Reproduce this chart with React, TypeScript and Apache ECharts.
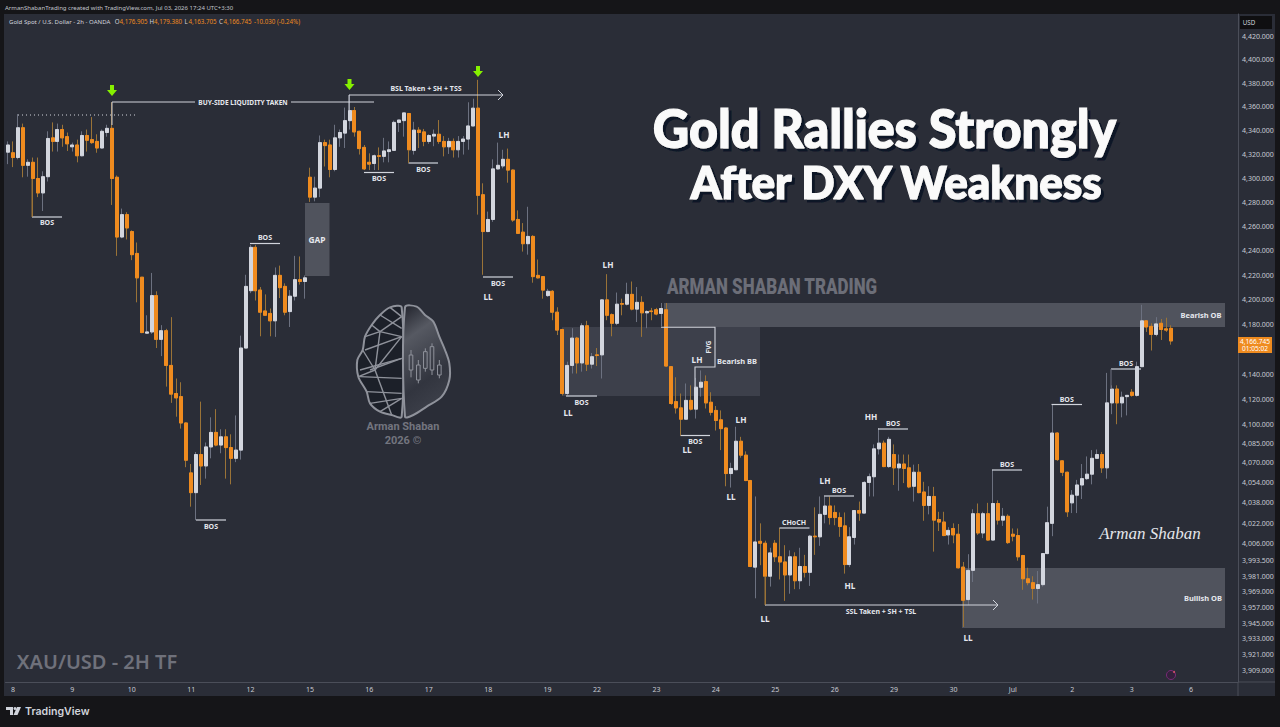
import React, { useEffect, useRef } from "react";
import * as echarts from "echarts";

// Each row is [open, high, low, close].
const juneWeek2: number[][] = [
[4322,4331,4312,4328],[4321.5,4331,4309.5,4317.5],[4317.5,4354,4316,4342.5],[4342.5,4346,4301,4311],[4311,4316,4301.5,4313.5],[4313.5,4317.5,4268,4300],[4300,4317.5,4284.5,4288],[4288,4306,4273,4301.5],[4301.5,4339.5,4297.5,4333.5],[4334,4347,4322.5,4331],
[4331,4346,4322.5,4341],[4341,4345,4326.5,4334],[4335,4338.5,4323,4329],[4326.5,4330,4322.5,4328],[4328,4332.5,4313.5,4319],[4319,4339.5,4318.5,4336],[4336,4341,4322.5,4332],[4332.5,4351.5,4329,4330],[4331,4337,4321.5,4325.5],[4325.5,4341,4325,4339.5],
[4338.5,4345,4335,4342],[4342,4364,4278,4300],[4301,4302.5,4236,4251.5],[4251.5,4275,4250.5,4270],[4270,4272,4249.5,4259],[4256,4257,4232.5,4237],[4238,4247,4198,4218],[4218.5,4218.5,4173,4173.5],[4173,4187.5,4172.5,4174],[4174,4222,4172.5,4203.5],
[4203.5,4207,4161,4168],[4168,4179.5,4154.5,4175],[4175,4176.5,4130,4147],[4147,4186,4117,4124],[4124.5,4136.5,4106,4121],[4122,4133.5,4096.5,4101],[4101,4101.5,4066,4071.5],[4061.5,4068.5,4035,4046],[4046,4078,4024.5,4076],[4076,4118,4052,4067],
[4067,4085.5,4057,4082],[4082,4105.5,4073,4093.5],[4093.5,4112,4082.5,4083.5],[4083.5,4096,4077,4090],[4090,4096,4057,4081.5],[4081.5,4092,4052.5,4073],[4073,4107,4070,4079.5],[4079.5,4171,4072,4161],[4161,4220.5,4161,4211],[4207.5,4245,4205.5,4243],
[4243,4245,4199.5,4207.5],[4208,4210.5,4170.5,4190],[4191,4204.5,4187.5,4187.5],[4189,4193,4170.5,4183],[4183,4226.5,4170,4220],[4220,4228,4201.5,4210],[4211,4213.5,4187.5,4190],[4190.5,4208,4178,4203],[4203,4236,4199.5,4216.5],[4216.5,4235.5,4212.5,4215],
[4215,4220,4201,4218],
];
const juneWeek3: number[][] = [
[4301,4309,4280.5,4284.5],[4284.5,4301.5,4281,4292],[4292,4336,4284.5,4330],[4330,4332.5,4310,4327.5],[4328,4332.5,4301,4307.5],[4307.5,4345,4306,4334],[4334,4341,4326.5,4338.5],[4338,4359.5,4325.5,4348.5],[4348.5,4370.5,4341,4357],[4357,4360,4335,4339],
[4339.5,4340,4320,4325],[4326,4328,4307,4308],[4313.5,4321,4307,4312],[4312.5,4320,4307,4319],[4319,4326,4307,4318.5],[4318.5,4334,4313.5,4323],[4322.5,4331,4313.5,4324],[4323.5,4348.5,4323,4347],[4347,4349,4339,4349],[4348.5,4355,4335,4355],
[4354.5,4355,4313.5,4324],[4323.5,4347.5,4320,4340.5],[4340.5,4343,4325.5,4338.5],[4339,4341.5,4327,4331],[4331,4337,4329,4336],[4335.5,4341,4327,4337],[4337,4349,4329,4331],[4331,4335.5,4318.5,4326.5],[4326.5,4334,4320.5,4331],[4331,4333.5,4317.5,4324],
[4324,4335.5,4317.5,4331],[4331,4335.5,4320,4333],[4333,4364,4324,4344],[4344,4367,4344,4359],[4359,4383,4270,4286],[4286.5,4296,4220.5,4256],[4256,4272.5,4255.5,4266],[4266,4316,4264,4308],[4308,4330,4307.5,4311],[4310.5,4324,4308.5,4316],
[4316,4325,4296.5,4307],[4307,4307.5,4264,4265.5],[4266,4273.5,4254,4254.5],[4255.5,4263,4239.5,4246],[4246,4276.5,4237,4252],[4252,4253,4214,4219],[4220,4233,4217.5,4218],[4219,4219.5,4201,4208],[4203.5,4209,4202.5,4207],
];
const juneWeek4: number[][] = [
[4207,4208,4183.5,4190],[4190,4194,4171.5,4175.5],[4176,4176.5,4123,4124.5],[4124.5,4150,4123,4147],[4147,4177,4140.5,4169],[4169,4170,4140.5,4149],[4149,4181,4142,4179],[4179,4183,4142.5,4148],[4148,4157,4144.5,4154],[4155.5,4161,4146.5,4155],
[4155.5,4200.5,4136.5,4200],[4200,4221,4183.5,4187.5],[4188,4189,4170.5,4181],[4181,4206,4179.5,4196.5],[4197,4201,4187.5,4196.5],[4196.5,4214,4195.5,4204.5],[4204.5,4215,4191.5,4192.5],[4192.5,4210.5,4182,4198],[4198,4203,4170,4189.5],[4189.5,4191.5,4177,4190.5],
[4191,4193.5,4183.5,4190.5],[4192,4193.5,4187.5,4188.5],[4189,4197.5,4178.5,4193],[4192,4197.5,4146,4146.5],[4146,4146.5,4115.5,4116.5],[4118,4137.5,4108.5,4113],[4113,4124.5,4091,4104],[4104,4132.5,4104,4119],[4119,4131,4111,4112],[4112,4137,4104.5,4129.5],
[4129.5,4143,4122,4133.5],[4134,4139,4112.5,4117],[4117.5,4125.5,4107,4109.5],[4111,4114.5,4095,4103],[4103.5,4111,4079.5,4096.5],[4097,4097.5,4051,4061],[4061,4069.5,4050,4065],[4064,4098,4064,4086.5],[4086.5,4090,4073.5,4075.5],[4075.5,4078.5,4055,4055.5],
[4055.5,4056,3988,3988.5],[3988,4043,3964,4007.5],[4008,4022,3989.5,4006.5],[4006.5,4008.5,3958.5,3981],[3981,4003,3973,3999],[4006.5,4009,3992,3996],[3996,4018.5,3978.5,3992],[3992,4005,3962,3982],[3982,4001,3967.5,3996],[3996,3999.5,3971,3977.5],
];
const juneWeek5: number[][] = [
[3977.5,4003,3971,3988.5],[3988.5,3997.5,3980,3984],[3984,4013,3973.5,4012],[4012,4034.5,3997.5,4011.5],[4011.5,4043,4004.5,4029],[4029,4043,4022,4035.5],[4035.5,4043,4021,4026.5],[4030.5,4036,4020.5,4026.5],[4026.5,4030.5,4011.5,4019.5],[4020,4030.5,3983,3990],
[3990,4019,3988,4011.5],[4011,4032,4005.5,4032],[4032,4039,4024,4030],[4030,4055,4030,4054],[4054,4061,4043,4058.5],[4058.5,4084,4043,4080.5],[4080.5,4097,4076,4085],[4085,4087,4066,4066.5],[4066.5,4090,4065.5,4088],[4076,4084,4052,4065.5],
[4065.5,4076,4047.5,4068.5],[4068.5,4076,4053.5,4065],[4065.5,4076,4049.5,4050.5],[4051,4068,4039,4062],[4062,4068.5,4045.5,4046],[4046.5,4054.5,4024,4036],[4036,4051,4029,4043],[4043,4050.5,4000,4024.5],[4025,4031,4016,4023],[4023,4031,4012,4012.5],
[4013,4019,4005.5,4016.5],[4018,4022,4006.5,4013],[4013.5,4021.5,3987,3987.5],[3988,3992,3942,3962.5],[3963,3998,3959,3985.5],[3985.5,4033,3976.5,4029.5],[4029.5,4037.5,4013,4014.5],[4014.5,4031,4010.5,4029.5],[4029.5,4038,4008.5,4009],[4009,4064,4008.5,4037.5],
];
const julyWeek1: number[][] = [
[4037.5,4040,4021,4024.5],[4024.5,4034,4020,4027.5],[4027.5,4029,4006,4007],[4013.5,4018,4008,4012],[4012.5,4018,3993,3996],[3997,3997.5,3970.5,3979],[3979,3987.5,3974,3976],[3976,3981,3963,3971.5],[3971.5,3985,3960,3974.5],[3974.5,3998.5,3973,3998.5],
[3998.5,4035,3998,4022.5],[4022,4116,4012,4093],[4093,4093.5,4071,4072],[4071,4071.5,4059,4062],[4062,4062.5,4027,4031],[4038,4048,4030,4044],[4044,4056,4030,4052],[4052,4068.5,4041,4057],[4057,4074.5,4056,4060.5],[4060.5,4079.5,4052.5,4073],
[4073,4080,4073,4076],[4076,4078,4061.5,4065.5],[4065.5,4141,4057,4117],[4117,4131,4108,4128],[4128,4131,4100,4117],[4117,4126,4105.5,4121.5],[4122,4123,4107,4123],[4125.5,4128,4122,4123],[4123,4150,4122,4146],[4146,4196,4146,4183],
[4183,4183.5,4174,4178],[4178.5,4181,4159,4172],[4172,4186,4170.5,4180.5],[4181,4184.5,4167.5,4176],[4176.5,4185.5,4174,4175.5],[4176.905,4179.38,4163.705,4166.745],
];
const candles = [...juneWeek2, ...juneWeek3, ...juneWeek4, ...juneWeek5, ...julyWeek1];

const dayNames = ["8","9","10","11","12","15","16","17","18","19","22","23","24","25","26","29","30","Jul","2","3","6"];
const dayStarts = [1,13,25,37,49,61,73,85,97,109,119,131,143,155,167,179,191,203,215,227,239];
const priceTicks = [4420,4400,4380,4360,4340,4320,4300,4280,4260,4240,4220,4200,4180,4140,4120,4100,4085,4070,4054,4038,4022,4006,3993.5,3981,3969,3957,3945,3933,3921,3909];
const slotCount = 249;

const PANEL = "#2a2d37", FRAME = "#151518", ORANGE = "#ef8b1f", LIGHT = "#d3d6de", LINE = "#d1d4dc";
const FONT = '"Noto Sans"';

const fmt = (v: number) => v.toLocaleString("en-US", { minimumFractionDigits: 3, maximumFractionDigits: 3 });

function T(text: string, x: number, y: number, size: number, extra: any = {}) {
  const { weight = "bold", fill = "#e6e8ee", align = "center", family = FONT, style: st = {}, ...el } = extra;
  return {
    type: "text", z: 20, x, y, silent: true, ...el,
    style: {
      text, x: 0, y: 0, fill,
      font: `${weight} ${size}px ${family}`,
      textAlign: align, align, textVerticalAlign: "middle", verticalAlign: "middle", ...st,
    },
  };
}
function L(x1: number, y1: number, x2: number, y2: number, extra: any = {}) {
  const { stroke = LINE, width = 1, dash, z = 20 } = extra;
  return { type: "line", z, silent: true, shape: { x1, y1, x2, y2 }, style: { stroke, lineWidth: width, lineDash: dash } };
}
function R(x: number, y: number, w: number, h: number, fill: string, z = 1) {
  return { type: "rect", z, silent: true, shape: { x, y, width: w, height: h }, style: { fill } };
}
function bos(x1: number, x2: number, y: number, ty: number) {
  return [L(x1, y, x2, y, { width: 1.2 }), T("BOS", (x1 + x2) / 2, ty, 7)];
}
function arrowDown(cx: number, top: number) {
  return {
    type: "polygon", z: 20, silent: true,
    shape: { points: [[cx - 2, top], [cx + 2, top], [cx + 2, top + 5], [cx + 5, top + 5], [cx, top + 11], [cx - 5, top + 5], [cx - 2, top + 5]] },
    style: { fill: "#86f000" },
  };
}
function arrowHead(x: number, y: number) {
  return { type: "polyline", z: 20, silent: true, shape: { points: [[x - 5, y - 5], [x, y], [x - 5, y + 5]] }, style: { stroke: LINE, lineWidth: 1, fill: "none" } };
}
const bx = (v: number) => 350 + v / 3, by = (v: number) => 300 + v / 3;
const pts = (a: number[][]) => a.map(([x, y]) => [bx(x), by(y)]);
function brain() {
  const c = "#8f929b";
  const left = [[155,22],[120,22],[90,45],[65,75],[45,110],[38,150],[22,180],[25,230],[50,275],[60,310],[90,335],[125,345],[155,350]];
  const right = [[165,350],[190,345],[230,320],[275,290],[298,240],[298,190],[285,150],[268,110],[250,65],[225,45],[200,20],[165,22]];
  const mesh = [[[155,110],[45,150]],[[155,110],[90,95]],[[155,110],[75,210]],[[155,175],[30,210]],[[155,175],[60,210]],[[38,150],[75,210]],[[75,210],[25,230]],[[75,210],[125,345]],[[50,275],[155,280]],[[60,310],[155,295]],[[120,22],[155,50]],[[90,45],[155,85]],[[65,75],[90,95]],[[90,95],[75,210]],[[155,50],[90,95]],[[45,110],[90,95]],[[30,230],[155,235]],[[90,335],[155,295]]];
  const sticks = [[183,150,165,210,232],[205,180,195,240,250],[226,145,155,205,215],[246,130,140,210,225],[268,180,195,225,235]];
  const out: any[] = [
    { type: "polygon", z: 1, silent: true, shape: { points: pts(left), smooth: 0.3 }, style: { fill: "rgba(20,23,32,.6)", stroke: c, lineWidth: 2 } },
    { type: "polygon", z: 1, silent: true, shape: { points: pts(right), smooth: 0.3 }, style: { fill: { type: "linear", x: 0, y: 0, x2: 0.3, y2: 1, colorStops: [{ offset: 0, color: "#20222b" }, { offset: 0.3, color: "#565962" }, { offset: 0.75, color: "#32353f" }, { offset: 1, color: "#3c3f49" }] }, stroke: c, lineWidth: 2 } },
  ];
  mesh.forEach(([a, b]) => out.push(L(bx(a[0]), by(a[1]), bx(b[0]), by(b[1]), { stroke: c, width: 1.4, z: 2 })));
  sticks.forEach(([x, h, t, b, l]) => {
    out.push(L(bx(x), by(h), bx(x), by(t), { stroke: c, z: 2 }));
    out.push(L(bx(x), by(b), bx(x), by(l), { stroke: c, z: 2 }));
    out.push({ type: "rect", z: 2, silent: true, shape: { x: bx(x) - 1.8, y: by(t), width: 3.6, height: (b - t) / 3 }, style: { fill: "none", stroke: c, lineWidth: 1 } });
  });
  return out;
}

function buildGraphics() {
  const titleStyle = { stroke: "#fafafa", lineWidth: 1.2, textShadowColor: "#0c1528", textShadowOffsetX: 3, textShadowOffsetY: 3, textShadowBlur: 0.01 };
  const g: any[] = [
    // panels
    { type: "rect", z: -20, silent: true, shape: { x: 4, y: 14, width: 1271, height: 682 }, style: { fill: PANEL } },
    L(1238, 682, 1275, 682, { stroke: "#4b4e59", z: -10 }),
    L(1238, 682, 1238, 696, { stroke: "#4b4e59", z: -10 }),
    // zones
    R(664, 303, 561, 24, "#50535d"),
    R(562, 327, 198, 69, "rgba(120,123,134,.25)"),
    R(962, 568, 263, 60, "#50535d"),
    R(305, 203, 24.5, 73, "#50535d"),
    ...brain(),
    // header
    T("ArmanShabanTrading created with TradingView.com, Jul 03, 2026 17:24 UTC+3:30", 5, 7.5, 6, { align: "left", weight: "normal", fill: "#c2c5cd" }),
    T("Gold Spot / U.S. Dollar - 2h - OANDA", 9, 21.5, 6.05, { align: "left", weight: "normal", fill: "#d1d4dc" }),
    T("O", 114.7, 21.5, 6.2, { align: "left", weight: "normal", fill: "#d1d4dc" }),
    T("4,176.905", 119.5, 21.5, 6.2, { align: "left", weight: "normal", fill: ORANGE }),
    T("H", 149.5, 21.5, 6.2, { align: "left", weight: "normal", fill: "#d1d4dc" }),
    T("4,179.380", 154, 21.5, 6.2, { align: "left", weight: "normal", fill: ORANGE }),
    T("L", 184.5, 21.5, 6.2, { align: "left", weight: "normal", fill: "#d1d4dc" }),
    T("4,163.705", 188.5, 21.5, 6.2, { align: "left", weight: "normal", fill: ORANGE }),
    T("C", 219, 21.5, 6.2, { align: "left", weight: "normal", fill: "#d1d4dc" }),
    T("4,166.745", 223.5, 21.5, 6.2, { align: "left", weight: "normal", fill: ORANGE }),
    T("-10.030 (-0.24%)", 254, 21.5, 6.2, { align: "left", weight: "normal", fill: ORANGE }),
    // axis badges
    R(1240, 16, 32, 13, "#0f0f11", 20),
    T("USD", 1249, 22.5, 6.2, { weight: "normal", fill: "#d1d4dc" }),
    R(1238, 337, 34, 16, ORANGE, 20),
    T("4,166.745", 1255, 341.5, 6.6, { weight: "normal", fill: "#fff", z: 21 }),
    T("01:05:02", 1255, 348.5, 6.6, { weight: "normal", fill: "#fff", z: 21 }),
    // titles
    T("Gold Rallies Strongly", 884.5, 127, 54, { weight: 900, fill: "#fafafa", family: '"Lato"', style: titleStyle, scaleX: 0.93 }),
    T("After DXY Weakness", 896, 182, 46, { weight: 900, fill: "#fafafa", family: '"Lato"', style: titleStyle, scaleX: 0.955 }),
    T("ARMAN SHABAN TRADING", 772, 287, 22, { weight: 900, fill: "#6c6e78", family: '"Roboto"', scaleX: 0.77 }),
    T("XAU/USD - 2H TF", 97, 661, 20, { weight: 600, fill: "#6f717b" }),
    T("Arman Shaban", 403, 426, 11, { weight: "bold", fill: "#73757f", family: '"Roboto"' }),
    T("2026 ©", 403, 440, 11, { weight: "bold", fill: "#73757f", family: '"Roboto"' }),
    T("Arman Shaban", 1150, 533, 17, { weight: "italic", fill: "#e4e6ea", family: '"Liberation Serif"' }),
    // footer
    T("TradingView", 25, 711, 10.6, { align: "left", weight: 600, fill: "#d1d4dc", family: '"Inter"' }),
    { type: "polygon", z: 20, silent: true, shape: { points: [[6,707],[13,707],[13,715],[10,715],[10,710],[6,710]] }, style: { fill: "#d1d4dc" } },
    { type: "circle", z: 20, silent: true, shape: { cx: 15, cy: 708.5, r: 1.5 }, style: { fill: "#d1d4dc" } },
    { type: "polygon", z: 20, silent: true, shape: { points: [[17,707],[21,707],[17.5,715],[13.5,715]] }, style: { fill: "#d1d4dc" } },
    // event icon
    { type: "circle", z: 20, silent: true, shape: { cx: 1171, cy: 675, r: 4.5 }, style: { fill: "#33213c", stroke: "#7a2a78", lineWidth: 1 } },
    { type: "circle", z: 20, silent: true, shape: { cx: 1174, cy: 672, r: 1 }, style: { fill: "#d9506a" } },
    // annotations
    L(18, 115, 135, 115, { dash: [1, 3], width: 1 }),
    arrowDown(112, 85), arrowDown(349.5, 79), arrowDown(478, 66),
    L(112, 102, 195, 102), T("BUY-SIDE LIQUIDITY TAKEN", 243, 102, 6.6), L(291, 102, 374, 102),
    L(112, 102, 112, 125),
    L(349, 95, 503, 95), arrowHead(503, 95), L(349, 95, 349, 110),
    T("BSL Taken + SH + TSS", 426, 88.5, 7),
    ...bos(32, 62, 217, 222.5), L(32, 179, 32, 217, { stroke: "#9a7337" }),
    ...bos(250, 280, 243.5, 237),
    ...bos(196, 226, 520, 526),
    ...bos(364, 394, 172.5, 178),
    ...bos(408.5, 438, 163, 169), L(408.5, 150, 408.5, 163, { stroke: "#9a7337" }),
    ...bos(483, 513, 277, 283),
    T("LL", 488, 296, 8.2), T("LH", 504, 134, 8.2),
    ...bos(566, 597, 396, 402), T("LL", 568, 412, 8.2), T("LH", 608, 264, 8.2),
    ...bos(680.5, 710, 435.5, 441), L(680.5, 420, 680.5, 435.5, { stroke: "#9a7337" }), T("LL", 687, 449.5, 8.2),
    T("LH", 741, 419, 8.2), T("LL", 731, 496, 8.2), T("LH", 697, 359, 8.2),
    { type: "polyline", z: 20, silent: true, shape: { points: [[661, 327.3], [715, 327.3], [715, 367], [695, 367], [695, 387]] }, style: { stroke: LINE, lineWidth: 1.1, fill: "none" } },
    T("FVG", 708.5, 347, 6.8, { rotation: Math.PI / 2 }),
    T("Bearish BB", 737, 361, 7.5),
    T("GAP", 317, 239.5, 8.4),
    L(779.5, 528, 809.5, 528, { width: 1.2 }), T("CHoCH", 794, 522, 7),
    T("LH", 825, 480, 8.2), ...bos(824, 854, 496, 490), T("HL", 850, 585, 8.2),
    T("HH", 871, 416, 8.2), ...bos(878, 908, 429, 423),
    T("LL", 765, 618, 8.2), L(765, 605, 998, 605), arrowHead(998, 605), L(765, 576, 765, 605, { stroke: "#9a7337" }),
    T("SSL Taken + SH + TSL", 881, 611, 7),
    T("LL", 968, 637, 8.2),
    ...bos(992, 1022, 470, 464),
    ...bos(1051.5, 1082, 404.5, 399),
    ...bos(1111, 1141, 369, 363), L(1111, 369, 1111, 389, { stroke: "#6c7180" }),
    T("Bearish OB", 1201, 315, 7.5),
    T("Bullish OB", 1203, 598, 7.5),
  ];
  return g;
}

export default function App() {
  const ref = useRef<HTMLDivElement>(null);
  useEffect(() => {
    const chart = echarts.init(ref.current!, undefined, { renderer: "svg" });
    const categories = Array.from({ length: slotCount }, (_, i) => {
      const k = dayStarts.indexOf(i);
      return k >= 0 ? dayNames[k] : "";
    });
    const wicks = candles.map(([o, h, l, c]) => [o, c, l, h]);
    const bodies = candles.map(([o, , , c]) => [o, c, Math.min(o, c), Math.max(o, c)]);
    chart.setOption({
      animation: false,
      backgroundColor: FRAME,
      textStyle: { fontFamily: "Noto Sans" },
      grid: { left: 5.5, top: 14, width: 1232.55, height: 668, containLabel: false },
      xAxis: {
        type: "category",
        data: categories,
        boundaryGap: true,
        axisLine: { show: true, lineStyle: { color: "#4b4e59" } },
        axisTick: { show: false },
        splitLine: { show: false },
        axisLabel: { show: true, interval: 0, hideOverlap: false, color: "#c8cbd3", fontSize: 7, margin: 4 },
      },
      yAxis: {
        type: "log",
        logBase: 10,
        position: "right",
        min: 3900.2,
        max: 4439.3,
        scale: true,
        axisLine: { show: true, lineStyle: { color: "#4b4e59" } },
        axisTick: { show: false },
        splitLine: { show: false },
        minorTick: { show: false },
        axisLabel: {
          show: true,
          color: "#c8cbd3",
          fontSize: 7,
          margin: 4,
          customValues: priceTicks,
          formatter: (v: number) => fmt(v),
        },
      },
      series: [
        {
          name: "XAU/USD range",
          type: "candlestick",
          barWidth: 3.5,
          data: wicks,
          itemStyle: { color: "transparent", color0: "transparent", borderColor: "#6c7180", borderColor0: "#9a7337", borderColorDoji: "#6c7180", borderWidth: 1 },
          silent: true,
        },
        {
          name: "XAU/USD bodies",
          type: "candlestick",
          barWidth: 3.5,
          data: bodies,
          itemStyle: { color: LIGHT, color0: ORANGE, borderColor: LIGHT, borderColor0: ORANGE, borderColorDoji: LIGHT, borderWidth: 1 },
          silent: true,
        },
      ],
      graphic: { elements: buildGraphics() },
    });
    return () => chart.dispose();
  }, []);
  return <div ref={ref} style={{ position: "fixed", left: 0, top: 0, width: 1280, height: 727 }} />;
}
